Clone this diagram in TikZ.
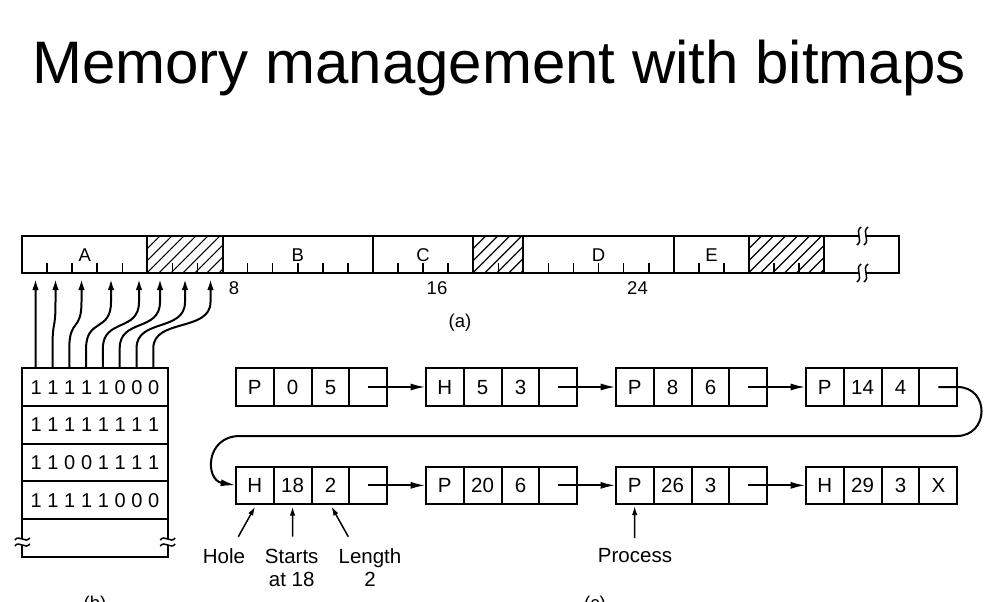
\documentclass[tikz,border=0pt]{standalone}
\usepackage{fontspec}
\setmainfont{Liberation Sans}
\usetikzlibrary{arrows.meta}

% one list entry: four cells (tag, start, length, pointer)
\newcommand\listentry[7]{%
  \node[cell] (#1-1) at ({#2+18.95},#3) {#4};
  \node[cell] (#1-2) at ({#2+56.85},#3) {#5};
  \node[cell] (#1-3) at ({#2+94.75},#3) {#6};
  \node[cell] (#1-4) at ({#2+132.65},#3) {#7};
}
% one bit, on a fixed pitch
\newcommand\bitcell[1]{\makebox[16.8pt]{#1}}
% x position of memory unit #1
\newcommand\ux[1]{{22+(#1)*25.07}}

\begin{document}
\begin{tikzpicture}[x=1pt,y=-1pt,
  font=\fontsize{20.5}{24}\selectfont,
  outline/.style={line width=2pt},
  seg/.style={draw, line width=2pt, inner sep=0pt, outer sep=0pt,
    minimum height=36.5pt, anchor=north west, font=\fontsize{18.5}{22}\selectfont,
    text height=15pt, text depth=0pt},
  hatched/.style={seg, path picture={
    \foreach \o in {-48,-36,...,84}
      \draw[line width=1.2pt] ([xshift=\o pt]path picture bounding box.south west) -- ++(45:70pt);}},
  tick/.style={line width=1.5pt},
  bitrow/.style={draw, line width=2pt, inner sep=0pt, outer sep=0pt,
    minimum width=145.4pt, minimum height=37.6pt, anchor=north west,
    font=\fontsize{20}{24}\selectfont, text height=14.5pt, text depth=0pt},
  cell/.style={draw, line width=2pt, inner sep=0pt, outer sep=0pt,
    minimum width=37.9pt, minimum height=37.4pt, text height=14.5pt, text depth=0pt},
  mapline/.style={line width=2pt, -{Latex[length=11pt,width=6.5pt]}},
  link/.style={line width=2pt, -{Latex[length=15pt,width=7pt]}},
  ptr/.style={line width=1.5pt, -{Latex[length=9pt,width=5.5pt]}},
  caption/.style={font=\fontsize{18.5}{22}\selectfont},
  note/.style={anchor=base},
  breakmark/.style={line width=1.5pt}
]
\useasboundingbox (0,0) rectangle (1007,602);
\clip (0,0) rectangle (1007,602);

% title
\node[font=\fontsize{60}{72}\selectfont, anchor=base] (title) at (499,83.3)
  {Memory management with bitmaps};

% ---------- (a) memory as a row of allocation units ----------
\node[seg, minimum width=125.35pt] (segA) at (\ux{0},236) {A};
\node[hatched, minimum width=75.21pt] (hole1) at (\ux{5},236) {};
\node[seg, minimum width=150.42pt] (segB) at (\ux{8},236) {B};
\node[seg, minimum width=100.28pt] (segC) at (\ux{14},236) {C};
\node[hatched, minimum width=50.14pt] (hole2) at (\ux{18},236) {};
\node[seg, minimum width=150.42pt] (segD) at (\ux{20},236) {D};
\node[seg, minimum width=75.21pt] (segE) at (\ux{26},236) {E};
\node[hatched, minimum width=75.21pt] (hole3) at (\ux{29},236) {};
% open-ended tail of memory, cut by break marks
\coordinate (tailNW) at (\ux{32},236);
\coordinate (tailSW) at (\ux{32},272.5);
\coordinate (tailNE) at (\ux{35},236);
\coordinate (tailSE) at (\ux{35},272.5);
\draw[outline] (tailNW) -- (859,236);
\draw[outline] (866,236) -- (tailNE) -- (tailSE) -- (866,272.5);
\draw[outline] (859,272.5) -- (tailSW);
\foreach \bx in {859,866}{
  \draw[breakmark] (\bx+2,227) .. controls (\bx-5,232) and (\bx+5,240) .. (\bx-2,245);
  \draw[breakmark] (\bx+2,264) .. controls (\bx-5,269) and (\bx+5,277) .. (\bx-2,282);
}

% unit ticks
\foreach \k in {1,2,3,4,6,7,9,10,11,12,13,15,16,17,19,21,22,23,24,25,27,28,30,31}
  \draw[tick] (\ux{\k},272.5) -- ++(0,-9.3);

% scale labels
\node[caption] (lab8) at (234,288) {8};
\node[caption] (lab16) at (437,288) {16};
\node[caption] (lab24) at (637.5,288) {24};
\node[caption] (capA) at (460,323) {(a)};

% ---------- (b) bitmap ----------
\node[bitrow] (row1) at (22.3,368.3)
  {\bitcell1\bitcell1\bitcell1\bitcell1\bitcell1\bitcell0\bitcell0\bitcell0};
\node[bitrow] (row2) at (22.3,405.9)
  {\bitcell1\bitcell1\bitcell1\bitcell1\bitcell1\bitcell1\bitcell1\bitcell1};
\node[bitrow] (row3) at (22.3,443.5)
  {\bitcell1\bitcell1\bitcell0\bitcell0\bitcell1\bitcell1\bitcell1\bitcell1};
\node[bitrow] (row4) at (22.3,481.1)
  {\bitcell1\bitcell1\bitcell1\bitcell1\bitcell1\bitcell0\bitcell0\bitcell0};
% last, open-ended row
\draw[outline] (22.3,518.7) -- (22.3,539);
\draw[outline] (22.3,545) -- (22.3,556.7) -- (167.7,556.7) -- (167.7,545);
\draw[outline] (167.7,518.7) -- (167.7,539);
\foreach \bx in {22.3,167.7}
  \foreach \by in {539,545}
    \draw[breakmark] (\bx-7.5,\by+1) .. controls (\bx-3,\by-5) and (\bx+3,\by+5) .. (\bx+7.5,\by-1);

% one bit per allocation unit
\foreach \i/\t in {0/35.5,1/55.5,2/81.5,3/111,4/139,5/160,6/185,7/210.5}{
  \coordinate (bit\i) at ({35.7+16.8*\i},368.3);
  \coordinate (unit\i) at (\t,279);
  \draw[mapline] (bit\i) -- ++(0,-20) .. controls ++(0,-30) and ([yshift=-30pt]unit\i |- 0,302)
    .. (unit\i |- 0,302) -- (unit\i);
}

\node[caption] (capB) at (95,605) {(b)};

% ---------- (c) linked list ----------
\listentry{e1}{235.7}{387}{P}{0}{5}{}
\listentry{e2}{425.7}{387}{H}{5}{3}{}
\listentry{e3}{615.7}{387}{P}{8}{6}{}
\listentry{e4}{805.7}{387}{P}{14}{4}{}
\listentry{e5}{235.7}{485.35}{H}{18}{2}{}
\listentry{e6}{425.7}{485.35}{P}{20}{6}{}
\listentry{e7}{615.7}{485.35}{P}{26}{3}{}
\listentry{e8}{805.7}{485.35}{H}{29}{3}{X}

\draw[link] (e1-4.center) -- (e2-1.west);
\draw[link] (e2-4.center) -- (e3-1.west);
\draw[link] (e3-4.center) -- (e4-1.west);
\draw[link] (e4-4.center) -- (e4-4.east)
  .. controls +(32.7,0) and (989.4,436) .. (956.7,436) -- (240,436)
  .. controls (205,436) and (205,480) .. (e5-1.west);
\draw[link] (e5-4.center) -- (e6-1.west);
\draw[link] (e6-4.center) -- (e7-1.west);
\draw[link] (e7-4.center) -- (e8-1.west);

% annotations
\node[note] (hole) at (224,563) {Hole};
\node[note] (starts) at (291.7,563) {Starts};
\node[note] (starts2) at (291.7,586.5) {at 18};
\node[note] (length) at (370,563) {Length};
\node[note] (length2) at (370,586.5) {2};
\node[note] (process) at (635,562.5) {Process};
\coordinate (holeTail) at (238.3,536.7);
\coordinate (startsTail) at (292.5,536.7);
\coordinate (lengthTail) at (348.3,536.7);
\coordinate (processTail) at (634.7,538);
\draw[ptr] (holeTail) -- ([xshift=0.5pt,yshift=-2.5pt]e5-1.south);
\draw[ptr] (startsTail) -- ([yshift=-2.5pt]e5-2.south);
\draw[ptr] (lengthTail) -- ([xshift=1pt,yshift=-2.5pt]e5-3.south);
\draw[ptr] (processTail) -- ([yshift=-2pt]e7-1.south);

\node[caption] (capC) at (595,605) {(c)};
\end{tikzpicture}
\end{document}
